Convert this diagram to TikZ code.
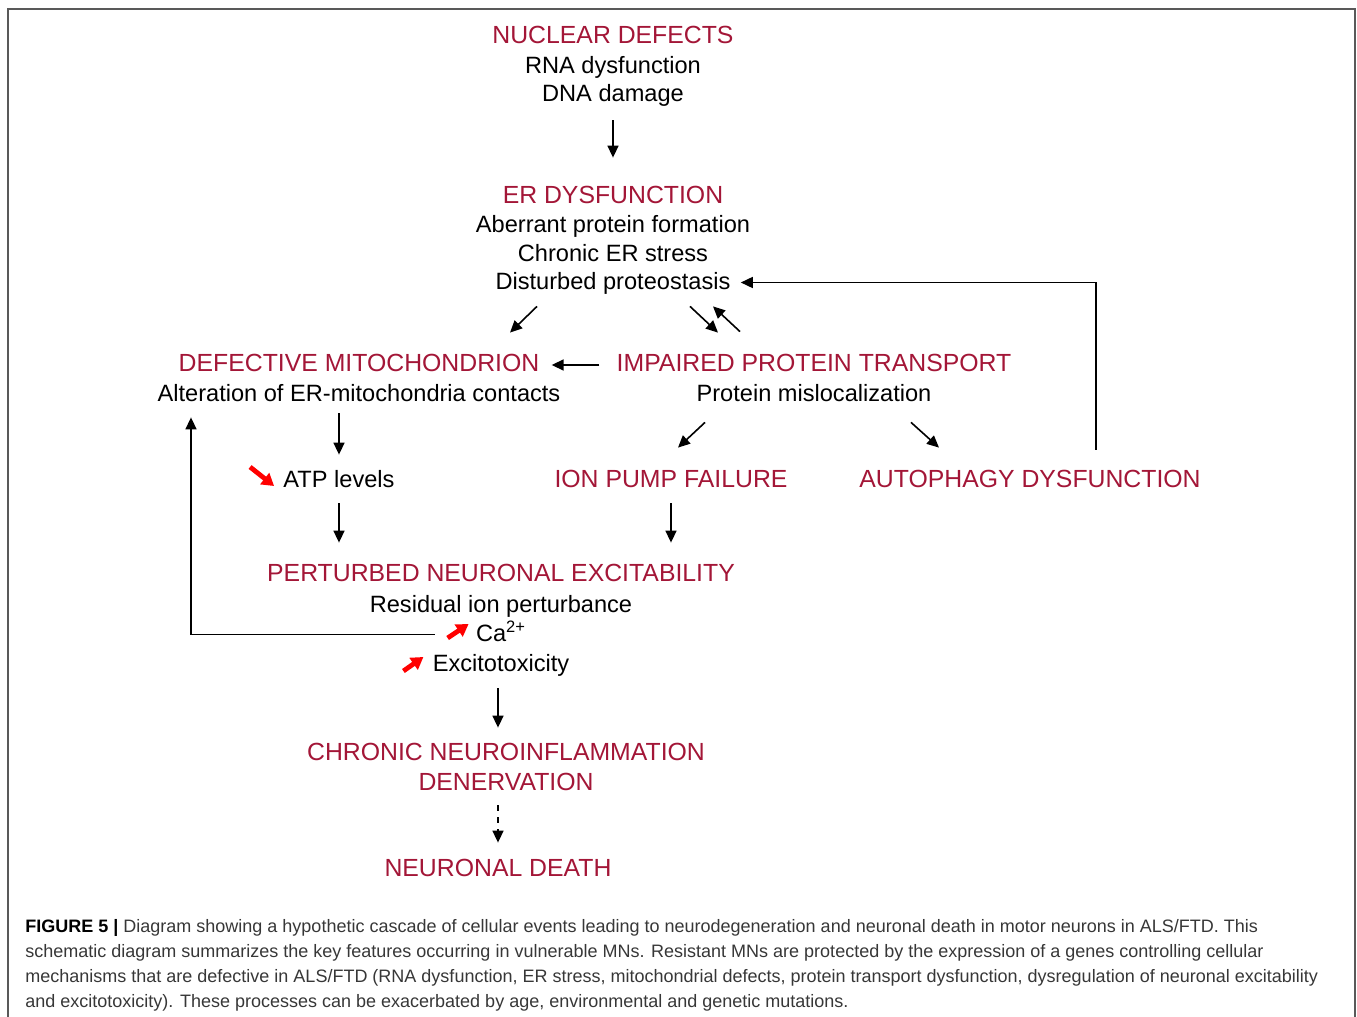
\documentclass[tikz,border=0pt]{standalone}
\usepackage{fontspec}
\setmainfont{Liberation Sans}
\usetikzlibrary{arrows.meta}
\definecolor{figred}{RGB}{163,22,55}
\definecolor{capgray}{RGB}{55,55,55}
\begin{document}
\begin{tikzpicture}[x=0.5pt,y=-0.5pt,
    title/.style={figred, font=\fontsize{12.4}{14}\selectfont, inner sep=0pt, anchor=base, text height=9pt, text depth=2.5pt},
    sub/.style={title, black, font=\fontsize{11.8}{14}\selectfont},
    arr/.style={line width=0.8pt, -{Triangle[length=6pt,width=5.5pt]}},
    redarr/.style={red, line width=2.4pt, -{Triangle[length=6pt,width=7pt]}}]
    \useasboundingbox (0,0) rectangle (1357,1017);
    \draw[line width=1pt, gray!70!black] (8,8.5) rectangle (1355,1060); % frame
    % nuclear defects
    \node[title] (nucT) at (613,43.5) {NUCLEAR DEFECTS};
    \node[sub] (rna) at (613,73.5) {RNA dysfunction};
    \node[sub] (dna) at (613,101.5) {DNA damage};
    % ER dysfunction
    \node[title] (erT) at (613,203.5) {ER DYSFUNCTION};
    \node[sub] (aber) at (613,232.5) {Aberrant protein formation};
    \node[sub] (chron) at (613,261) {Chronic ER stress};
    \node[sub] (dist) at (613,289) {Disturbed proteostasis};
    % mitochondrion and transport
    \node[title] (mitoT) at (359,371.5) {DEFECTIVE MITOCHONDRION};
    \node[sub] (alt) at (359,401.5) {Alteration of ER-mitochondria contacts};
    \node[title] (impT) at (814,371.5) {IMPAIRED PROTEIN TRANSPORT};
    \node[sub] (misl) at (814,401.5) {Protein mislocalization};
    % third row
    \node[sub] (atp) at (339,487.5) {ATP levels};
    \node[title] (ion) at (671,487.5) {ION PUMP FAILURE};
    \node[title] (auto) at (1030,487.5) {AUTOPHAGY DYSFUNCTION};
    % excitability
    \node[title] (pertT) at (501,581.5) {PERTURBED NEURONAL EXCITABILITY};
    \node[sub] (resid) at (501,612.5) {Residual ion perturbance};
    \node[sub] (ca) at (501,641) {Ca\textsuperscript{2+}};
    \node[sub] (exc) at (501,671.5) {Excitotoxicity};
    % end stages
    \node[title] (chrT) at (506,760.5) {CHRONIC NEUROINFLAMMATION};
    \node[title] (den) at (506,790.5) {DENERVATION};
    \node[title] (death) at (498,876.5) {NEURONAL DEATH};
    % arrows
    \draw[arr, shorten <=6.75pt, shorten >=13.75pt] (dna.south) -- (erT.north);
    \draw[arr] ([shift={(-76,12)}]dist.south) -- ([shift={(151,-20.5)}]mitoT.north);
    \draw[arr] ([shift={(77,12)}]dist.south) -- ([shift={(-96,-20.5)}]impT.north);
    \draw[arr] ([shift={(-74,-21.5)}]impT.north) -- ([shift={(100,12)}]dist.south);
    \draw[arr, shorten <=8.5pt, shorten >=6pt] (impT.west) -- (mitoT.east);
    \draw[arr, shorten <=3.25pt, shorten >=7.25pt] (alt.south -| atp.north) -- (atp.north);
    \draw[redarr] ([shift={(-33,-14)}]atp.west) -- ([shift={(-9,5)}]atp.west); % ATP down
    \draw[arr, shorten <=5.25pt, shorten >=10.25pt] (atp.south) -- (atp.south |- pertT.north);
    \draw[arr] ([shift={(-109,15.5)}]misl.south) -- ([shift={(7,-21.5)}]ion.north);
    \draw[arr] ([shift={(97,15.5)}]misl.south) -- ([shift={(-91,-21.5)}]auto.north);
    \draw[arr, shorten <=5.25pt, shorten >=10.25pt] (ion.south) -- (ion.south |- pertT.north);
    \draw[arr, shorten >=5pt] ([shift={(66,-19.5)}]auto.north) |- (dist.east); % feedback
    \draw[redarr] ([shift={(-28,3.5)}]ca.west) -- ([shift={(-7,-10.5)}]ca.west); % Ca up
    \draw[redarr] ([shift={(-29,6)}]exc.west) -- ([shift={(-9,-8)}]exc.west); % excitotoxicity up
    \draw[arr] ([xshift=-20.5pt]ca.west) -| ([shift={(-168,10.5)}]alt.south); % feedback
    \draw[arr, shorten <=5.75pt, shorten >=7.25pt] (exc.south -| death.north) -- (chrT.north -| death.north);
    \draw[arr, dashed, shorten <=4.75pt, shorten >=7.75pt] (den.south -| death.north) -- (death.north);
    % caption
    \node[anchor=north west, inner sep=0pt, align=left, capgray, font=\fontsize{9}{12.5}\selectfont] (cap) at (25,919)
      {{\color{black}\bfseries FIGURE 5 |} Diagram showing a hypothetic cascade of cellular events leading to neurodegeneration and neuronal death in motor neurons in ALS/FTD. This\\
      schematic diagram summarizes the key features occurring in vulnerable MNs. Resistant MNs are protected by the expression of a genes controlling cellular\\
      mechanisms that are defective in ALS/FTD (RNA dysfunction, ER stress, mitochondrial defects, protein transport dysfunction, dysregulation of neuronal excitability\\
      and excitotoxicity). These processes can be exacerbated by age, environmental and genetic mutations.};
\end{tikzpicture}
\end{document}
